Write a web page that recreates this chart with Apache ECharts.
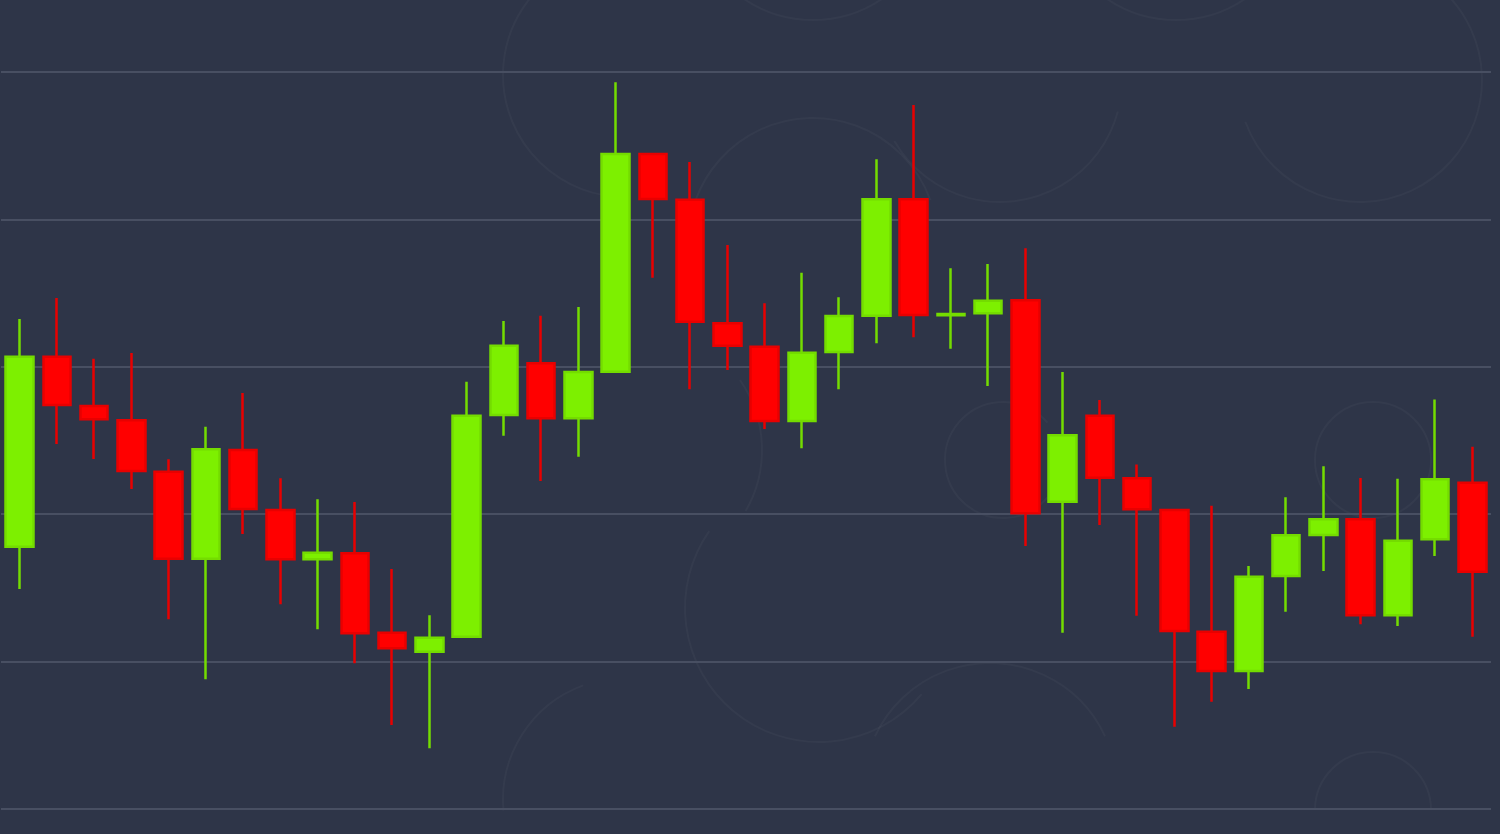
<!DOCTYPE html>
<html>
<head>
<meta charset="utf-8">
<script src="https://cdn.jsdelivr.net/npm/echarts@6/dist/echarts.min.js"></script>
<style>
html,body{margin:0;padding:0;background:#2e3548;}
#chart{width:1500px;height:834px;}
</style>
</head>
<body>
<div id="chart"></div>
<script>
// Candle index labels (no visible axis labels in the reference)
const categories = Array.from({length: 40}, (_, i) => 'D' + (i + 1));
// Values (arbitrary price units, grid lines every 100)
const opens  = [177.9,306.8,273.4,263.7,228.8,169.8,243.6,202.8,169.4,173.5,119.6,106.7,116.9,267.3,302.4,265.1,296.7,444.4,413.4,329.5,313.6,263.2,310.0,334.7,413.6,334.9,336.3,345.1,208.5,266.8,224.4,202.8,120.3,93.6,158.1,185.9,196.5,131.4,183.0,221.4];
const closes = [306.8,274.1,264.4,229.3,169.8,244.0,203.5,169.4,173.9,119.2,109.0,116.2,266.8,314.3,265.1,296.5,444.4,413.8,330.6,314.3,263.2,309.6,334.5,413.6,335.1,335.8,344.8,200.6,253.5,224.8,203.3,120.8,93.6,157.6,185.7,196.5,131.4,182.0,223.7,161.0];
const lows   = [149.3,247.6,237.4,217.1,128.7,88.0,186.6,138.9,121.9,98.8,57.0,41.2,116.9,253.3,222.5,239.0,296.7,360.4,284.7,297.8,257.8,244.7,284.7,315.9,320.0,312.3,287.0,178.4,119.6,192.7,131.1,55.8,72.8,81.4,133.9,161.5,125.3,124.2,171.6,116.9];
const highs  = [332.4,346.7,305.5,309.4,237.2,259.4,282.2,224.4,210.1,208.3,162.8,131.4,289.9,331.1,334.7,340.6,493.0,444.4,438.9,382.6,343.1,363.8,347.1,440.8,477.6,366.8,369.7,380.4,296.5,277.5,233.8,202.8,205.8,164.9,211.5,232.5,224.6,224.1,277.9,245.8];
const yTicks = {min: 0, max: 500, interval: 100};

// Faint decorative backdrop arcs: [cx, cy, r, startDeg, endDeg] (pixel placement of the backdrop art)
const rings = [
  [1373, 460, 58, 0, 360], [1373, 810, 58, 180, 360], [1003, 460, 58, 40, 320],
  [819, 608, 134, 40, 215], [813, 243, 125, 200, 340], [1000, 80, 122, 15, 150],
  [1360, 80, 122, -70, 160], [813, -103, 123, 50, 130], [1176, -103, 123, 50, 130],
  [625, 75, 122, 95, 250], [640, 450, 122, -35, 30], [990, 790, 127, 205, 335],
  [625, 800, 122, 175, 250]
];

const data = categories.map((c, i) => [opens[i], closes[i], lows[i], highs[i]]);

const chart = echarts.init(document.getElementById('chart'));
chart.setOption({
  backgroundColor: '#2e3548',
  animation: false,
  graphic: rings.map(r => ({
    type: 'arc',
    silent: true,
    z: 0,
    shape: {cx: r[0], cy: r[1], r: r[2], startAngle: r[3] * Math.PI / 180, endAngle: r[4] * Math.PI / 180, clockwise: true},
    style: {fill: 'none', stroke: 'rgba(255,255,255,0.03)', lineWidth: 2}
  })),
  grid: {left: 1, right: 9, top: 72, bottom: 25},
  xAxis: {
    type: 'category',
    data: categories,
    axisLine: {show: false},
    axisTick: {show: false},
    axisLabel: {show: false},
    splitLine: {show: false}
  },
  yAxis: {
    type: 'value',
    min: yTicks.min,
    max: yTicks.max,
    interval: yTicks.interval,
    axisLine: {show: false},
    axisTick: {show: false},
    axisLabel: {show: false},
    splitLine: {show: true, lineStyle: {color: '#484f62', width: 2}}
  },
  series: [{
    type: 'candlestick',
    data: data,
    barWidth: 28,
    z: 3,
    itemStyle: {
      color: '#7df000',
      color0: '#ff0000',
      borderColor: '#74dc00',
      borderColor0: '#e80000',
      borderWidth: 2.5
    }
  }]
});
</script>
</body>
</html>
